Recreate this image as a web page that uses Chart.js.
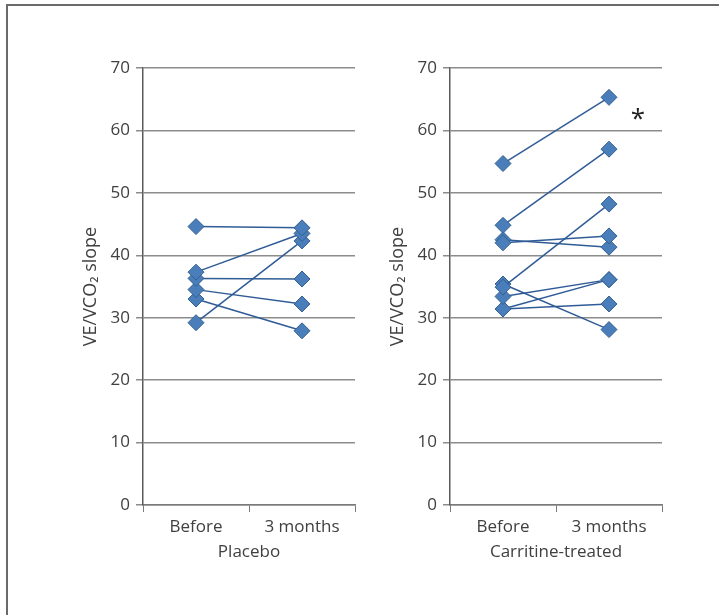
<!DOCTYPE html>
<html lang="en">
<head>
  <meta charset="UTF-8">
  <title>VE/VCO2 slope</title>
  <script src="https://cdn.jsdelivr.net/npm/chart.js"></script>
  <style>
    body {
      margin: 0;
      background: #fff;
      width: 719px;
      height: 615px;
      overflow: hidden;
      position: relative;
      font-family: "Open Sans", sans-serif;
    }
    .frame {
      position: absolute;
      left: 6px;
      top: 4px;
      width: 800px;
      height: 700px;
      border: 2px solid #6a6a6a;
    }
    .panel {
      position: absolute;
      top: 50px;
      width: 285px;
      height: 525px;
    }
  </style>
</head>
<body>

<div class="frame"></div>
<div class="panel" style="left:80px"><canvas id="placebo" width="285" height="525"></canvas></div>
<div class="panel" style="left:387px"><canvas id="carnitine" width="285" height="525"></canvas></div>

<script>
// values, one entry per patient
const groups = ['Before', '3 months'];
const placeboBefore = [44.6, 37.3, 36.3, 34.5, 33.0, 29.2];
const placebo3m = [44.4, 43.5, 36.2, 32.2, 27.9, 42.3];
const carnitineBefore = [54.7, 44.8, 42.0, 42.5, 34.9, 35.4, 33.4, 31.4, 31.4];
const carnitine3m = [65.3, 57.0, 43.1, 41.3, 48.2, 28.1, 36.1, 36.1, 32.2];
const yMin = 0, yMax = 70, yStep = 10;

const lineColor = '#2f5b96';
const markerFill = '#4a7ebb';
const markerEdge = '#35608f';
const textColor = '#404040';
const fontFamily = '"Open Sans", sans-serif';

// asterisk next to the treated group
const starPlugin = {
  id: 'star',
  afterDraw(chart, args, opts) {
    if (!opts.show) return;
    const c = chart.ctx;
    const y = chart.scales.y.getPixelForValue(61.8);
    c.save();
    c.fillStyle = '#222';
    c.font = '26px ' + fontFamily;
    c.textAlign = 'center';
    c.textBaseline = 'middle';
    c.fillText('*', chart.chartArea.right - 24, y);
    c.restore();
  }
};

function makePanel(id, title, before, after, star) {
  const datasets = before.map((v, i) => ({
    data: [v, after[i]],
    borderColor: lineColor,
    borderWidth: 1.5,
    tension: 0,
    pointStyle: 'rectRot',
    pointRadius: 8,
    pointHoverRadius: 8,
    pointBackgroundColor: markerFill,
    pointBorderColor: markerEdge,
    pointBorderWidth: 1
  }));

  return new Chart(document.getElementById(id), {
    type: 'line',
    data: { labels: groups, datasets: datasets },
    plugins: [starPlugin],
    options: {
      responsive: false,
      animation: false,
      layout: { padding: { top: 18, right: 10, bottom: 0, left: 0 } },
      plugins: {
        legend: { display: false },
        tooltip: { enabled: false },
        star: { show: star }
      },
      scales: {
        x: {
          offset: true,
          afterFit: s => { s.height = 70; },
          grid: {
            offset: true,
            drawOnChartArea: false,
            tickLength: 7,
            color: '#7a7a7a'
          },
          border: { color: '#7a7a7a', width: 1.5 },
          ticks: {
            color: textColor,
            font: { size: 17, family: fontFamily },
            padding: 5,
            maxRotation: 0
          },
          title: {
            display: true,
            text: title,
            color: textColor,
            font: { size: 17, family: fontFamily },
            padding: { top: 0, bottom: 13 }
          }
        },
        y: {
          min: yMin,
          max: yMax,
          afterFit: s => { s.width = 63; },
          ticks: {
            stepSize: yStep,
            color: textColor,
            font: { size: 17, family: fontFamily },
            padding: 6
          },
          grid: {
            color: '#8c8c8c',
            lineWidth: 1.5,
            tickLength: 7
          },
          border: { color: '#5a5a5a', width: 1.5 },
          title: {
            display: true,
            text: 'VE/VCO\u2082 slope',
            color: textColor,
            font: { size: 18, family: fontFamily },
            padding: { top: 0, bottom: 0 }
          }
        }
      }
    }
  });
}

makePanel('placebo', 'Placebo', placeboBefore, placebo3m, false);
makePanel('carnitine', 'Carritine-treated', carnitineBefore, carnitine3m, true);
</script>
</body>
</html>
